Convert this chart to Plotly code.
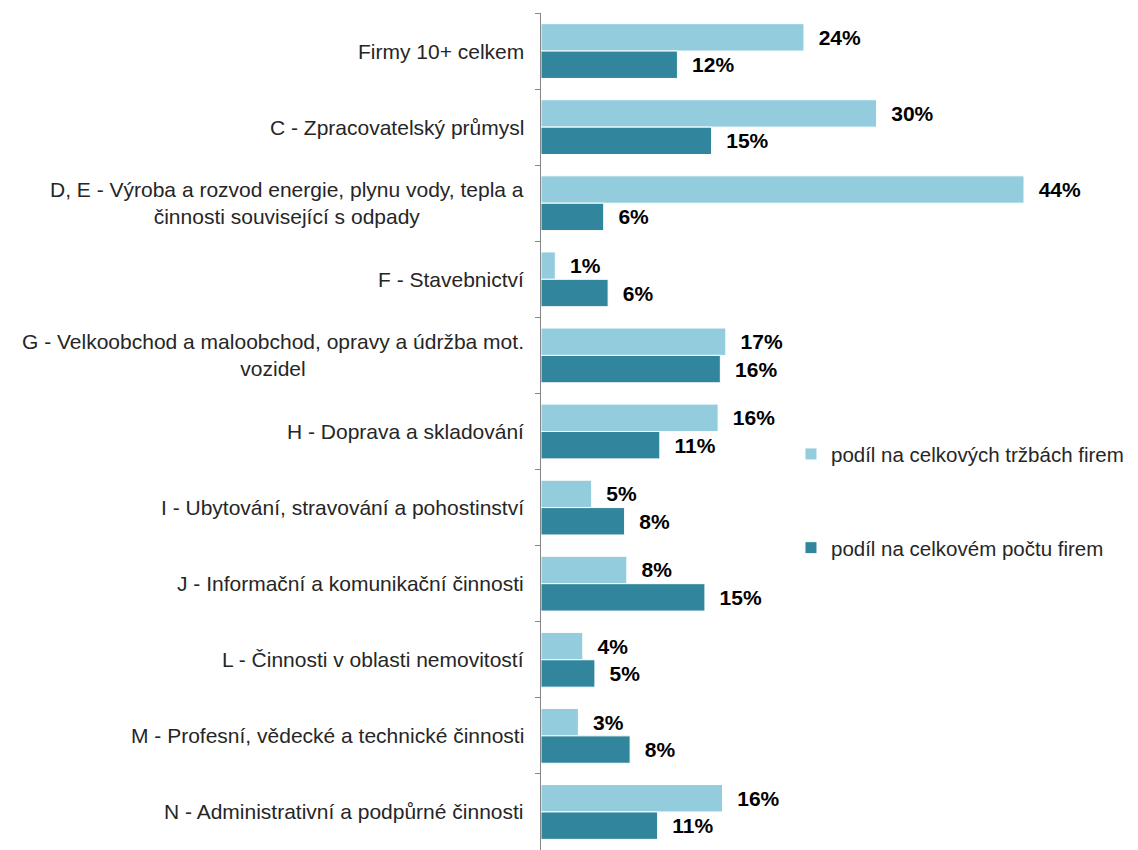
import plotly.graph_objects as go

kategorie = [
    "Firmy 10+ celkem",
    "C - Zpracovatelský průmysl",
    "D, E - Výroba a rozvod energie, plynu vody, tepla a<br>činnosti související s odpady",
    "F - Stavebnictví",
    "G - Velkoobchod a maloobchod, opravy a údržba mot.<br>vozidel",
    "H - Doprava a skladování",
    "I - Ubytování, stravování a pohostinství",
    "J - Informační a komunikační činnosti",
    "L - Činnosti v oblasti nemovitostí",
    "M - Profesní, vědecké a technické činnosti",
    "N - Administrativní a podpůrné činnosti",
]
trzby = [23.9, 30.5, 43.9, 1.3, 16.8, 16.1, 4.6, 7.8, 3.8, 3.4, 16.5]
trzby_text = ["24%", "30%", "44%", "1%", "17%", "16%", "5%", "8%", "4%", "3%", "16%"]
pocet = [12.4, 15.5, 5.7, 6.1, 16.3, 10.8, 7.6, 14.9, 4.9, 8.1, 10.6]
pocet_text = ["12%", "15%", "6%", "6%", "16%", "11%", "8%", "15%", "5%", "8%", "11%"]

LIGHT = '#93CDDD'
DARK = '#31859C'
FONT = 'Liberation Sans, Arial, sans-serif'
PAD = '\u00a0\u00a0'

fig = go.Figure()
fig.add_trace(go.Bar(y=kategorie, x=trzby, orientation='h', name='podíl na celkových tržbách firem',
                     marker=dict(color=LIGHT, line=dict(color='white', width=1)),
                     text=[PAD + t for t in trzby_text], textposition='outside', cliponaxis=False,
                     textfont=dict(size=21, color='black', family=FONT, weight='bold'),
                     legend='legend', showlegend=True))
fig.add_trace(go.Bar(y=kategorie, x=pocet, orientation='h', name='podíl na celkovém počtu firem',
                     marker=dict(color=DARK, line=dict(color='white', width=1)),
                     text=[PAD + t for t in pocet_text], textposition='outside', cliponaxis=False,
                     textfont=dict(size=21, color='black', family=FONT, weight='bold'),
                     legend='legend2', showlegend=True))

# category labels as centred annotations
for k in kategorie:
    fig.add_annotation(x=0, xref='paper', y=k, yref='y', text=k, showarrow=False,
                       xanchor='right', align='center', xshift=-15,
                       font=dict(size=21, color='#262626', family=FONT))

fig.update_layout(
    width=1130,
    height=842,
    margin=dict(l=533, r=92, t=5, b=0),
    plot_bgcolor='white',
    paper_bgcolor='white',
    barmode='group',
    bargap=0.28,
    bargroupgap=0,
    showlegend=True,
    font=dict(family=FONT, size=21, color='#262626'),
    legend=dict(x=0.495, y=0.473, xanchor='left', yanchor='middle', font=dict(size=20.5, color='#262626')),
    legend2=dict(x=0.495, y=0.361, xanchor='left', yanchor='middle', font=dict(size=20.5, color='#262626')),
)
fig.update_xaxes(range=[0, 45.9], visible=False)
fig.update_yaxes(autorange='reversed', showticklabels=False, showline=True, linecolor='#868686', linewidth=1,
                 ticks='outside', tickson='boundaries', ticklen=5, tickcolor='#868686', showgrid=False)

fig.write_html("out.html")
